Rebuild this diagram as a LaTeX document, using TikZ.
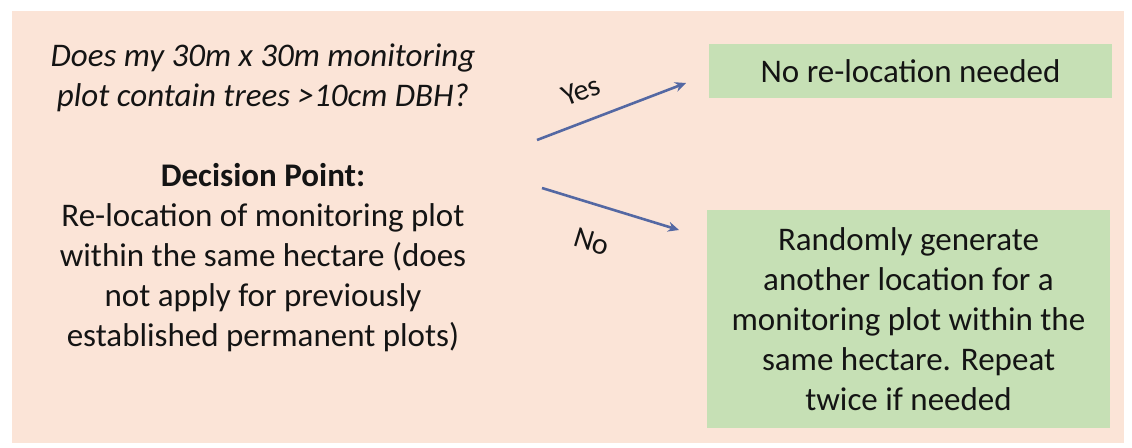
\documentclass[tikz,border=0pt]{standalone}
\usepackage{fontspec}
\setmainfont{Carlito}
\usetikzlibrary{arrows.meta}
\definecolor{peach}{HTML}{FBE4D7}
\definecolor{boxgreen}{HTML}{C6E0B5}
\definecolor{arrowblue}{HTML}{5468A3}
\definecolor{ink}{HTML}{141414}
\begin{document}
\begin{tikzpicture}[x=1pt,y=-1pt,
  txt/.style={font=\fontsize{33}{40}\selectfont, text=ink, align=center, inner sep=0pt},
  box/.style={txt, fill=boxgreen, draw=none, minimum width=403pt},
  conn/.style={draw=arrowblue, line width=2.6pt, -{Stealth[length=11pt,width=10pt]}},
  lbl/.style={font=\fontsize{30}{32}\selectfont, text=ink, inner sep=0pt}]
\useasboundingbox (0,0) rectangle (1132,447);
\fill[peach] (12,11) rectangle (1124,443);
\node[txt, font=\fontsize{33}{40}\selectfont\itshape] (q) at (263,78)
  {Does my 30m x 30m monitoring\\plot contain trees >10cm DBH?};
\node[txt] (dp) at (263,258)
  {{\bfseries Decision Point:}\\Re-location of monitoring plot\\within the same hectare (does\\not apply for previously\\established permanent plots)};
\node[box, minimum height=54pt] (b1) at (910.5,71) {No re-location needed};
\node[box, minimum height=218pt] (b2) at (908.5,319)
  {Randomly generate\\another location for a\\monitoring plot within the\\same hectare. Repeat\\twice if needed};
\coordinate (ys) at (537,140);
\coordinate (ye) at (686,83);
\coordinate (ns) at (542,188);
\coordinate (ne) at (679,230);
\draw[conn] (ys) -- (ye);
\draw[conn] (ns) -- (ne);
\node[lbl, rotate=21] (yes) at (581,91) {Yes};
\node[lbl, rotate=-17] (no) at (592,242) {No};
\end{tikzpicture}
\end{document}
